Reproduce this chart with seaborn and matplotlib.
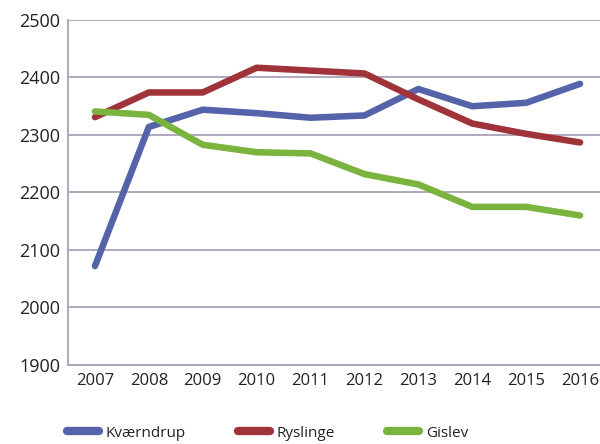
import pandas as pd
import matplotlib
matplotlib.use('Agg')
import matplotlib.pyplot as plt
import seaborn as sns

years = [2007, 2008, 2009, 2010, 2011, 2012, 2013, 2014, 2015, 2016]
kvaerndrup = [2072, 2314, 2344, 2338, 2330, 2334, 2380, 2350, 2356, 2389]
ryslinge = [2331, 2374, 2374, 2417, 2412, 2407, 2362, 2320, 2302, 2287]
gislev = [2341, 2335, 2283, 2270, 2268, 2232, 2214, 2175, 2175, 2160]
series_names = ['Kværndrup', 'Ryslinge', 'Gislev']
colors = ['#5563aa', '#a0333a', '#7ab33e']

sns.set_style('white')
plt.rcParams['font.family'] = ['Open Sans', 'DejaVu Sans']

df = pd.DataFrame({
    'year': years * 3,
    'value': kvaerndrup + ryslinge + gislev,
    'by': [n for n in series_names for _ in years],
})

fig = plt.figure(figsize=(6, 4.44), dpi=100)
ax = fig.add_axes([68 / 600, 1 - 365 / 444, (607 - 68) / 600, (365 - 20) / 444])

grid_col = '#aaa2ba'
sns.lineplot(data=df, x='year', y='value', hue='by', palette=colors,
             linewidth=4.7, solid_capstyle='round', ax=ax, legend=False)

ax.set_xlim(2006.5, 2016.5)
ax.set_ylim(1900, 2500)
ax.set_xticks(years)
ax.set_yticks([1900, 2000, 2100, 2200, 2300, 2400, 2500])
ax.tick_params(axis='x', labelsize=12, length=0, pad=6, colors='#222222')
ax.tick_params(axis='y', labelsize=13, length=0, pad=5.5, colors='#222222')
ax.set_xlabel('')
ax.set_ylabel('')
ax.grid(axis='y', color=grid_col, linewidth=1.3)
ax.set_axisbelow(True)
for s in ['top', 'right']:
    ax.spines[s].set_visible(False)
for s in ['left', 'bottom']:
    ax.spines[s].set_color(grid_col)
    ax.spines[s].set_linewidth(1.3)

handles = [plt.Line2D([], [], color=c, linewidth=6, solid_capstyle='round') for c in colors]
fig.legend(handles, series_names, loc='center left', bbox_to_anchor=(53 / 600, 1 - 433 / 444),
           ncol=3, frameon=False, fontsize=11, handlelength=2.1, handletextpad=0.45,
           columnspacing=3.4, labelcolor='#222222')

plt.savefig('out.png', dpi=100)
